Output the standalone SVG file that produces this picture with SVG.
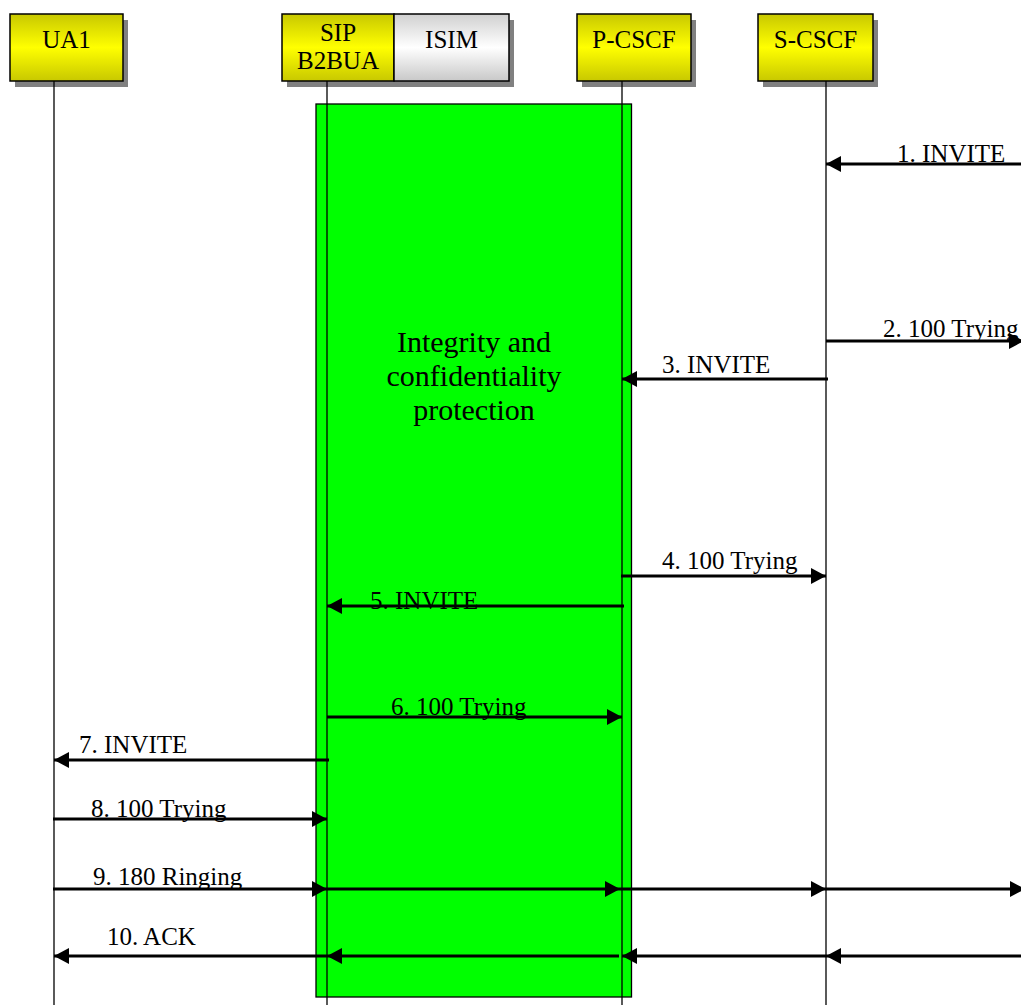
<svg xmlns="http://www.w3.org/2000/svg" width="1021" height="1005" viewBox="0 0 1021 1005">
<defs>
<linearGradient id="yel" x1="0" y1="0" x2="0" y2="1">
<stop offset="0" stop-color="#c8c800"/>
<stop offset="0.5" stop-color="#ffff00"/>
<stop offset="1" stop-color="#c8c800"/>
</linearGradient>
<linearGradient id="gry" x1="0" y1="0" x2="0" y2="1">
<stop offset="0" stop-color="#d0d0d0"/>
<stop offset="0.5" stop-color="#ffffff"/>
<stop offset="1" stop-color="#c8c8c8"/>
</linearGradient>
<marker id="ah" viewBox="0 0 15 16" refX="15" refY="8" markerWidth="15" markerHeight="16" markerUnits="userSpaceOnUse" orient="auto">
<path d="M0,0 L15,8 L0,16 Z" fill="#000"/>
</marker>
</defs>
<style>
.t{font-family:"Liberation Serif","Times New Roman",serif;font-size:25px;fill:#000}
.c{text-anchor:middle}
.box{stroke:#000;stroke-width:1.5}
.sh{fill:#808080}
.life{stroke:#000;stroke-width:1.3;fill:none}
.msg{stroke:#000;stroke-width:3.2;fill:none}
.arr{marker-end:url(#ah)}
.big{font-size:30px}
</style>
<rect width="1021" height="1005" fill="#fff"/>

<g id="protection">
<rect x="316" y="104" width="315.5" height="893" fill="#00ff00" stroke="#000" stroke-width="1.3"/>
<text class="t big c" x="474" y="352">Integrity and</text>
<text class="t big c" x="474" y="386">confidentiality</text>
<text class="t big c" x="474" y="420">protection</text>
</g>

<g id="UA1">
<rect class="sh" x="15" y="20" width="113" height="67"/>
<rect class="box" x="10" y="14" width="113" height="67" fill="url(#yel)"/>
<text class="t c" x="66.5" y="48">UA1</text>
<line class="life" x1="54" y1="81" x2="54" y2="1005"/>
</g>

<g id="SIP-B2BUA">
<rect class="sh" x="287" y="20" width="227" height="67"/>
<rect class="box" x="282" y="14" width="112" height="67" fill="url(#yel)"/>
<text class="t c" x="338" y="41">SIP</text>
<text class="t c" x="338" y="69">B2BUA</text>
<line class="life" x1="327" y1="81" x2="327" y2="1005"/>
</g>

<g id="ISIM">
<rect class="box" x="394" y="14" width="115" height="67" fill="url(#gry)"/>
<text class="t c" x="451.5" y="48">ISIM</text>
</g>

<g id="P-CSCF">
<rect class="sh" x="582" y="20" width="114" height="67"/>
<rect class="box" x="577" y="14" width="114" height="67" fill="url(#yel)"/>
<text class="t c" x="634" y="48">P-CSCF</text>
<line class="life" x1="622" y1="81" x2="622" y2="1005"/>
</g>

<g id="S-CSCF">
<rect class="sh" x="763" y="20" width="115" height="67"/>
<rect class="box" x="758" y="14" width="115" height="67" fill="url(#yel)"/>
<text class="t c" x="815.5" y="48">S-CSCF</text>
<line class="life" x1="826" y1="81" x2="826" y2="1005"/>
</g>

<g id="connectors">
<text class="t" x="897" y="162">1. INVITE</text>
<line class="msg arr" x1="1024" y1="164" x2="826" y2="164"/>

<text class="t" x="883" y="337">2. 100 Trying</text>
<line class="msg arr" x1="826" y1="341" x2="1024" y2="341"/>

<text class="t" x="662" y="373">3. INVITE</text>
<line class="msg arr" x1="828" y1="379" x2="622" y2="379"/>

<text class="t" x="662" y="569">4. 100 Trying</text>
<line class="msg arr" x1="621" y1="576" x2="826" y2="576"/>

<text class="t" x="370" y="609">5. INVITE</text>
<line class="msg arr" x1="624" y1="606" x2="327" y2="606"/>

<text class="t" x="391" y="715">6. 100 Trying</text>
<line class="msg arr" x1="327" y1="717" x2="622" y2="717"/>

<text class="t" x="79" y="753">7. INVITE</text>
<line class="msg arr" x1="329" y1="760" x2="54" y2="760"/>

<text class="t" x="91" y="817">8. 100 Trying</text>
<line class="msg arr" x1="53" y1="819" x2="327" y2="819"/>

<text class="t" x="93" y="885">9. 180 Ringing</text>
<line class="msg arr" x1="53" y1="889" x2="327" y2="889"/>
<line class="msg arr" x1="327" y1="889" x2="620" y2="889"/>
<line class="msg arr" x1="620" y1="889" x2="826" y2="889"/>
<line class="msg arr" x1="826" y1="889" x2="1025" y2="889"/>

<text class="t" x="107" y="945">10. ACK</text>
<line class="msg arr" x1="1024" y1="956" x2="826" y2="956"/>
<line class="msg arr" x1="826" y1="956" x2="622" y2="956"/>
<line class="msg arr" x1="619" y1="956" x2="327" y2="956"/>
<line class="msg arr" x1="327" y1="956" x2="54" y2="956"/>
</g>
</svg>
